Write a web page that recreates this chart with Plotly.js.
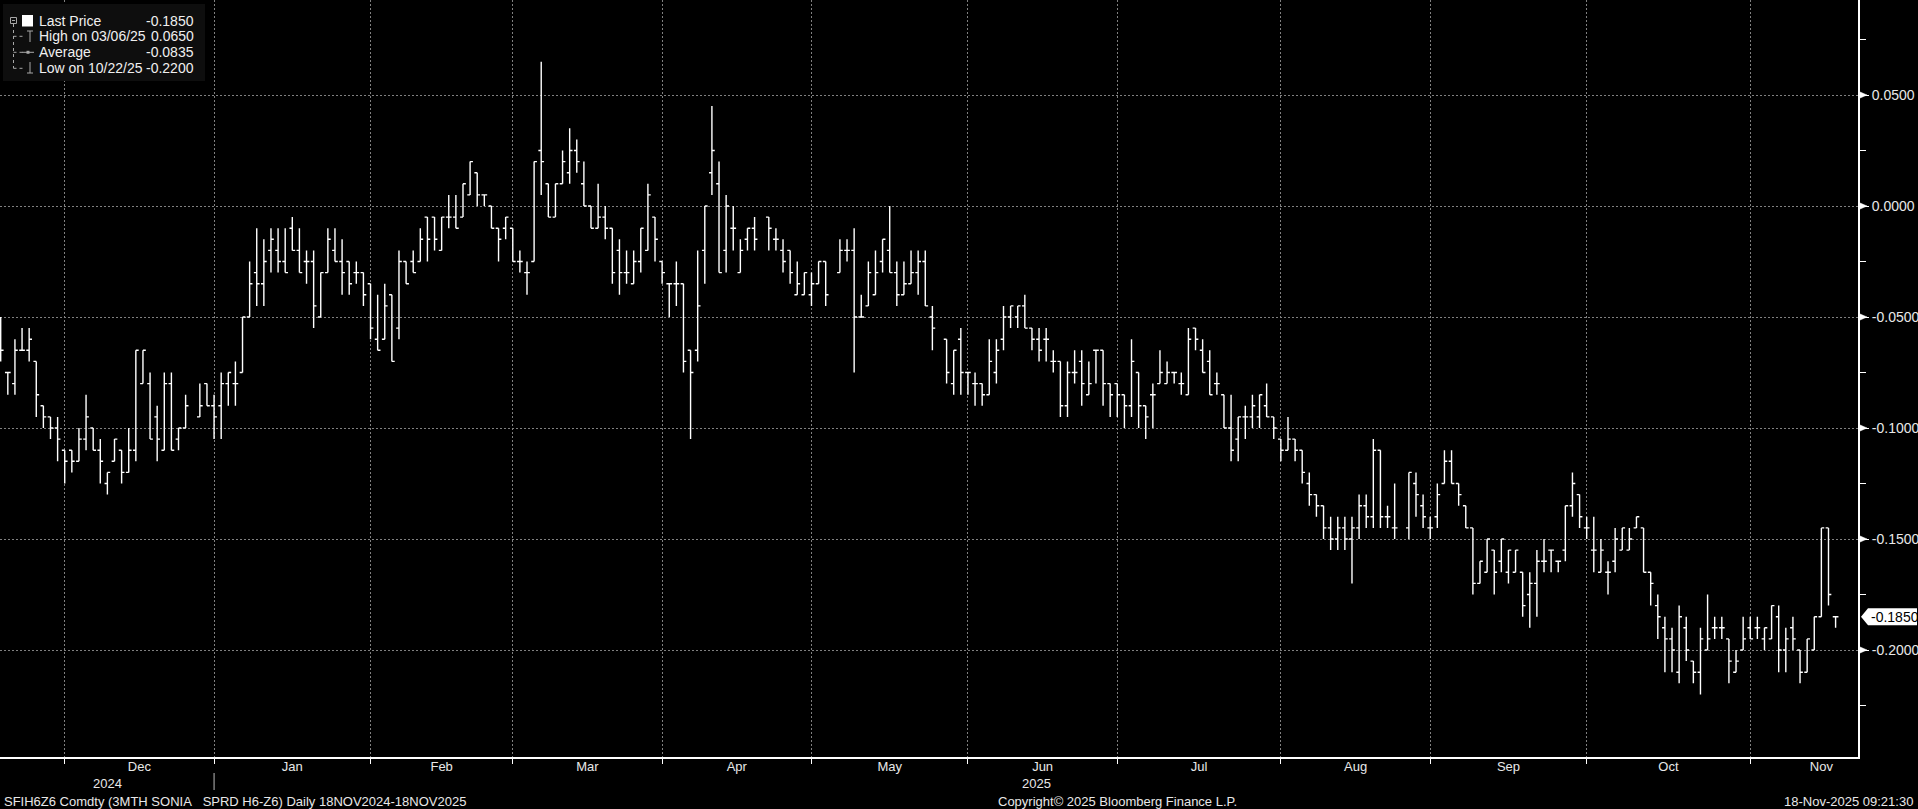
<!DOCTYPE html>
<html><head><meta charset="utf-8">
<script src="https://cdn.plot.ly/plotly-3.0.1.min.js"></script>
<style>html,body{margin:0;padding:0;background:#000;overflow:hidden}#chart{width:1918px;height:809px}</style>
</head><body><div id="chart"></div>
<script>
// ---- data ----
const startDate = '2024-11-18';
const endDate = '2025-11-18';
const holidays = ['2024-12-25', '2025-01-01', '2025-04-18'];
const monthNames = ['Jan','Feb','Mar','Apr','May','Jun','Jul','Aug','Sep','Oct','Nov','Dec'];

const opens = [
-0.06,-0.075,-0.08,-0.065,-0.065,-0.07,-0.09,-0.095,-0.10,-0.11,
-0.11,-0.115,-0.105,-0.10,-0.11,-0.125,-0.115,-0.11,-0.12,-0.11,
-0.08,-0.08,-0.095,-0.11,-0.08,-0.105,-0.10,null,-0.095,-0.08,
-0.09,-0.09,-0.08,-0.08,-0.075,-0.05,-0.03,-0.035,-0.02,-0.02,
-0.025,-0.01,-0.02,-0.025,-0.025,-0.05,-0.03,-0.02,-0.025,-0.025,
-0.03,-0.03,-0.035,-0.06,-0.06,-0.04,-0.055,-0.025,-0.025,-0.025,
-0.005,-0.005,-0.02,-0.005,-0.005,-0.005,0.005,0.015,0.005,0.0,
-0.01,-0.01,-0.01,-0.025,-0.03,-0.025,0.025,0.01,-0.005,0.01,
0.015,0.025,0.01,0.0,-0.01,-0.005,-0.01,-0.02,-0.03,-0.035,
-0.025,-0.02,-0.005,-0.025,-0.035,-0.035,-0.035,-0.065,-0.065,-0.02,
0.015,0.01,-0.02,-0.01,-0.03,-0.015,-0.01,null,-0.005,-0.015,
-0.02,-0.02,-0.04,-0.04,-0.04,-0.035,-0.025,null,-0.03,-0.02,
-0.02,-0.05,-0.045,-0.04,-0.025,-0.02,-0.03,-0.04,-0.035,-0.03,
-0.025,-0.05,null,-0.06,-0.08,-0.06,-0.075,-0.08,-0.08,-0.085,
-0.075,-0.06,-0.05,-0.05,-0.045,-0.055,-0.06,-0.06,-0.07,-0.07,
-0.09,-0.075,-0.07,-0.085,-0.065,-0.065,-0.08,-0.08,-0.085,-0.09,
-0.075,-0.09,-0.085,-0.08,-0.08,-0.075,-0.08,-0.085,-0.055,-0.065,
-0.07,-0.08,-0.085,-0.10,-0.105,-0.095,-0.095,-0.095,-0.09,-0.095,
-0.105,-0.11,-0.105,-0.11,-0.125,-0.13,-0.135,-0.145,-0.15,-0.145,
-0.15,-0.145,-0.135,-0.14,-0.11,-0.14,-0.145,null,-0.145,-0.125,
-0.135,-0.145,-0.14,-0.125,-0.115,-0.125,-0.135,-0.145,-0.17,-0.165,
-0.155,-0.16,-0.165,-0.165,-0.165,-0.175,-0.17,-0.16,-0.155,-0.16,
-0.155,-0.135,-0.13,-0.145,-0.155,-0.165,-0.165,-0.16,-0.155,-0.155,
-0.145,-0.145,-0.165,-0.18,-0.19,-0.195,-0.21,-0.19,-0.205,-0.21,
-0.20,-0.19,-0.19,-0.195,-0.21,-0.20,-0.19,-0.19,-0.195,-0.195,
-0.185,-0.20,-0.19,-0.20,-0.21,-0.20,-0.185,-0.145,-0.185
];
const highs = [
-0.05,-0.075,-0.06,-0.055,-0.055,-0.07,-0.09,-0.095,-0.095,-0.11,
-0.11,-0.10,-0.085,-0.10,-0.105,-0.12,-0.105,-0.11,-0.10,-0.065,
-0.065,-0.075,-0.09,-0.075,-0.075,-0.10,-0.085,null,-0.08,-0.08,
-0.085,-0.075,-0.075,-0.07,-0.05,-0.025,-0.01,-0.015,-0.01,-0.01,
-0.01,-0.005,-0.01,-0.02,-0.02,-0.03,-0.01,-0.01,-0.015,-0.025,
-0.025,-0.03,-0.035,-0.04,-0.035,-0.04,-0.02,-0.025,-0.02,-0.01,
-0.005,-0.005,-0.005,0.005,0.005,0.01,0.02,0.015,0.005,0.0,
-0.01,-0.005,-0.01,-0.02,-0.025,0.02,0.065,0.01,0.01,0.025,
0.035,0.03,0.02,0.0,0.01,0.0,-0.01,-0.015,-0.02,-0.02,
-0.01,0.01,-0.005,-0.025,-0.035,-0.025,-0.035,-0.065,-0.02,0.0,
0.045,0.02,0.005,0.0,-0.015,-0.01,-0.005,null,-0.005,-0.01,
-0.015,-0.02,-0.025,-0.03,-0.03,-0.025,-0.025,null,-0.015,-0.015,
-0.01,-0.04,-0.025,-0.02,-0.015,0.0,-0.025,-0.025,-0.02,-0.02,
-0.02,-0.045,null,-0.06,-0.065,-0.055,-0.075,-0.075,-0.08,-0.06,
-0.06,-0.045,-0.045,-0.045,-0.04,-0.055,-0.055,-0.055,-0.065,-0.07,
-0.07,-0.065,-0.065,-0.07,-0.065,-0.065,-0.08,-0.08,-0.085,-0.06,
-0.075,-0.09,-0.08,-0.065,-0.07,-0.075,-0.075,-0.055,-0.055,-0.06,
-0.065,-0.075,-0.085,-0.085,-0.095,-0.09,-0.085,-0.085,-0.08,-0.095,
-0.105,-0.095,-0.105,-0.11,-0.12,-0.13,-0.135,-0.14,-0.14,-0.14,
-0.14,-0.13,-0.13,-0.105,-0.11,-0.135,-0.125,null,-0.12,-0.12,
-0.13,-0.14,-0.125,-0.11,-0.11,-0.125,-0.135,-0.145,-0.16,-0.15,
-0.155,-0.15,-0.155,-0.155,-0.165,-0.165,-0.155,-0.15,-0.155,-0.16,
-0.135,-0.12,-0.13,-0.14,-0.14,-0.15,-0.16,-0.145,-0.145,-0.145,
-0.14,-0.145,-0.165,-0.175,-0.185,-0.19,-0.18,-0.185,-0.205,-0.19,
-0.175,-0.185,-0.185,-0.195,-0.20,-0.185,-0.185,-0.185,-0.19,-0.18,
-0.18,-0.19,-0.185,-0.20,-0.195,-0.185,-0.145,-0.145,-0.185
];
const lows = [
-0.07,-0.085,-0.085,-0.065,-0.07,-0.095,-0.10,-0.105,-0.115,-0.125,
-0.12,-0.115,-0.11,-0.11,-0.125,-0.13,-0.115,-0.125,-0.12,-0.115,
-0.08,-0.105,-0.115,-0.11,-0.11,-0.11,-0.10,null,-0.095,-0.09,
-0.105,-0.105,-0.09,-0.09,-0.075,-0.05,-0.045,-0.045,-0.03,-0.03,
-0.03,-0.02,-0.03,-0.035,-0.055,-0.05,-0.03,-0.025,-0.04,-0.04,
-0.035,-0.045,-0.06,-0.065,-0.06,-0.07,-0.06,-0.035,-0.03,-0.025,
-0.025,-0.02,-0.02,-0.01,-0.01,-0.005,0.005,0.0,0.0,-0.01,
-0.025,-0.015,-0.025,-0.03,-0.04,-0.025,0.005,-0.005,-0.005,0.01,
0.01,0.015,0.0,-0.01,-0.01,-0.015,-0.035,-0.04,-0.035,-0.035,
-0.03,-0.02,-0.025,-0.035,-0.05,-0.045,-0.075,-0.105,-0.07,-0.035,
0.005,-0.03,-0.03,-0.02,-0.03,-0.02,-0.02,null,-0.02,-0.02,
-0.03,-0.035,-0.04,-0.04,-0.045,-0.035,-0.045,null,-0.03,-0.025,
-0.075,-0.05,-0.045,-0.04,-0.03,-0.03,-0.045,-0.04,-0.035,-0.04,
-0.045,-0.065,null,-0.08,-0.085,-0.085,-0.085,-0.09,-0.09,-0.085,
-0.08,-0.065,-0.055,-0.055,-0.055,-0.065,-0.07,-0.07,-0.075,-0.095,
-0.095,-0.08,-0.09,-0.085,-0.08,-0.09,-0.095,-0.095,-0.10,-0.095,
-0.10,-0.105,-0.10,-0.08,-0.08,-0.08,-0.085,-0.085,-0.065,-0.075,
-0.085,-0.085,-0.10,-0.115,-0.115,-0.105,-0.10,-0.10,-0.095,-0.105,
-0.115,-0.11,-0.115,-0.125,-0.135,-0.14,-0.15,-0.155,-0.155,-0.155,
-0.17,-0.15,-0.145,-0.145,-0.145,-0.145,-0.15,null,-0.15,-0.14,
-0.145,-0.15,-0.145,-0.125,-0.125,-0.135,-0.145,-0.175,-0.17,-0.165,
-0.175,-0.165,-0.17,-0.165,-0.185,-0.19,-0.185,-0.165,-0.165,-0.165,
-0.16,-0.14,-0.145,-0.15,-0.165,-0.165,-0.175,-0.165,-0.155,-0.155,
-0.145,-0.165,-0.18,-0.195,-0.21,-0.21,-0.215,-0.205,-0.215,-0.22,
-0.20,-0.195,-0.195,-0.215,-0.21,-0.20,-0.195,-0.195,-0.20,-0.195,
-0.21,-0.21,-0.20,-0.215,-0.21,-0.20,-0.185,-0.18,-0.19
];
const closes = [
-0.065,-0.075,-0.065,-0.065,-0.06,-0.085,-0.095,-0.10,-0.105,-0.115,
-0.115,-0.105,-0.095,-0.11,-0.115,-0.12,-0.105,-0.12,-0.11,-0.065,
-0.065,-0.105,-0.105,-0.08,-0.11,-0.10,-0.09,null,-0.09,-0.09,
-0.095,-0.08,-0.075,-0.08,-0.05,-0.035,-0.035,-0.025,-0.015,-0.025,
-0.03,-0.02,-0.03,-0.025,-0.045,-0.03,-0.015,-0.025,-0.03,-0.035,
-0.03,-0.04,-0.055,-0.065,-0.045,-0.07,-0.025,-0.035,-0.03,-0.015,
-0.015,-0.015,-0.005,-0.005,-0.01,0.01,0.02,0.005,0.005,-0.01,
-0.015,-0.005,-0.025,-0.025,-0.03,0.02,0.02,-0.005,0.01,0.02,
0.025,0.02,0.0,-0.01,-0.005,-0.01,-0.03,-0.03,-0.03,-0.025,
-0.01,0.005,-0.015,-0.03,-0.035,-0.035,-0.07,-0.075,-0.045,0.0,
0.025,-0.03,0.0,-0.01,-0.02,-0.01,-0.015,null,-0.01,-0.015,
-0.025,-0.03,-0.035,-0.03,-0.035,-0.025,-0.04,null,-0.02,-0.02,
-0.05,-0.05,-0.03,-0.03,-0.015,-0.03,-0.04,-0.035,-0.03,-0.025,
-0.045,-0.055,null,-0.075,-0.065,-0.075,-0.075,-0.08,-0.085,-0.07,
-0.065,-0.05,-0.045,-0.045,-0.055,-0.06,-0.065,-0.06,-0.07,-0.09,
-0.075,-0.075,-0.08,-0.08,-0.065,-0.08,-0.085,-0.085,-0.09,-0.07,
-0.09,-0.095,-0.085,-0.075,-0.075,-0.075,-0.08,-0.06,-0.06,-0.075,
-0.085,-0.08,-0.10,-0.11,-0.095,-0.095,-0.09,-0.085,-0.095,-0.10,
-0.11,-0.105,-0.11,-0.12,-0.13,-0.135,-0.145,-0.15,-0.145,-0.15,
-0.145,-0.135,-0.14,-0.11,-0.14,-0.14,-0.145,null,-0.12,-0.13,
-0.14,-0.145,-0.13,-0.115,-0.125,-0.13,-0.145,-0.17,-0.16,-0.15,
-0.165,-0.15,-0.155,-0.155,-0.18,-0.17,-0.16,-0.16,-0.155,-0.16,
-0.135,-0.125,-0.14,-0.145,-0.155,-0.155,-0.165,-0.15,-0.145,-0.15,
-0.14,-0.165,-0.17,-0.185,-0.195,-0.20,-0.185,-0.20,-0.21,-0.195,
-0.195,-0.19,-0.19,-0.205,-0.205,-0.195,-0.195,-0.19,-0.19,-0.18,
-0.20,-0.195,-0.195,-0.21,-0.195,-0.185,-0.145,-0.175,-0.185
];

const yTickVals = [0.05, 0, -0.05, -0.10, -0.15, -0.20];
const yTickText = ['0.0500', '0.0000', '-0.0500', '-0.1000', '-0.1500', '-0.2000'];
const yMinorTickVals = [0.075, 0.025, -0.025, -0.075, -0.125, -0.175, -0.225];
const legendLabels = ['Last Price', 'High on 03/06/25', 'Average', 'Low on 10/22/25'];
const legendValues = ['-0.1850', '0.0650', '-0.0835', '-0.2200'];
const footLeft = 'SFIH6Z6 Comdty (3MTH SONIA\u00a0\u00a0\u00a0SPRD H6-Z6) Daily 18NOV2024-18NOV2025';
const footMid = 'Copyright\u00a9 2025 Bloomberg Finance L.P.';
const footRight = '18-Nov-2025 09:21:30';

// ---- trading calendar (weekdays without exchange-closed days) ----
function weekdayList(a, b) {
  const out = [];
  const d = new Date(a + 'T00:00:00Z'), e = new Date(b + 'T00:00:00Z');
  while (d <= e) {
    const dow = d.getUTCDay(), s = d.toISOString().slice(0, 10);
    if (dow !== 0 && dow !== 6 && holidays.indexOf(s) < 0) out.push(s);
    d.setUTCDate(d.getUTCDate() + 1);
  }
  return out;
}
const dates = weekdayList(startDate, endDate);
const N = dates.length;
const xIdx = dates.map((d, i) => i);

// ---- geometry ----
const W = 1918, H = 809, ML = 0, MR = 60, MT = 0, MB = 52;
const PW = W - ML - MR, PH = H - MT - MB;
const X_MIN = -0.1, X_MAX = 261.15;
const Y_MIN = -0.2482, Y_MAX = 0.0928;
const px = v => v / PW;
const py = v => 1 - v / PH;
const FONT = "'Liberation Sans', Arial, sans-serif";
const TXT = '#e8e8e8';

// month boundaries = last trading day of each month
const bounds = [];
for (let i = 0; i < N - 1; i++) if (dates[i].slice(0, 7) !== dates[i + 1].slice(0, 7)) bounds.push(i);
const lastM = dates[N - 1].slice(0, 7).split('-').map(Number);
const lastMonthDays = weekdayList(
  new Date(Date.UTC(lastM[0], lastM[1] - 1, 1)).toISOString().slice(0, 10),
  new Date(Date.UTC(lastM[0], lastM[1], 0)).toISOString().slice(0, 10)).length;
const allBounds = bounds.concat([bounds[bounds.length - 1] + lastMonthDays]);
const labelVals = [], labelText = [];
for (let k = 0; k < allBounds.length - 1; k++) {
  labelVals.push((allBounds[k] + allBounds[k + 1]) / 2);
  labelText.push(monthNames[+dates[allBounds[k] + 1].slice(5, 7) - 1]);
}
let yearBound = 0;
for (let i = 0; i < N - 1; i++) if (dates[i].slice(0, 4) !== dates[i + 1].slice(0, 4)) yearBound = i;

const shapes = [];
const annotations = [];

// legend box
shapes.push({type: 'rect', xref: 'paper', yref: 'paper', x0: px(3), x1: px(205), y0: py(4), y1: py(81),
  fillcolor: '#0e0e0e', line: {width: 0}, layer: 'above'});
const ICON = '#a8a8a8';
const rowsY = [20.5, 36.3, 52.3, 68.3];
// tree lines
shapes.push({type: 'line', xref: 'paper', yref: 'paper', x0: px(13.5), x1: px(13.5), y0: py(24), y1: py(rowsY[3]),
  line: {color: ICON, width: 1, dash: 'dot'}, layer: 'above'});
[1, 2, 3].forEach(r => shapes.push({type: 'line', xref: 'paper', yref: 'paper', x0: px(13.5), x1: px(24), y0: py(rowsY[r]), y1: py(rowsY[r]),
  line: {color: ICON, width: 1, dash: 'dot'}, layer: 'above'}));
// collapse box
shapes.push({type: 'rect', xref: 'paper', yref: 'paper', x0: px(10.5), x1: px(16.5), y0: py(17.5), y1: py(23.5),
  fillcolor: '#0e0e0e', line: {color: ICON, width: 1}, layer: 'above'});
shapes.push({type: 'line', xref: 'paper', yref: 'paper', x0: px(12), x1: px(15), y0: py(20.5), y1: py(20.5),
  line: {color: ICON, width: 1}, layer: 'above'});
// white square (last price)
shapes.push({type: 'rect', xref: 'paper', yref: 'paper', x0: px(22), x1: px(33), y0: py(15), y1: py(26.5),
  fillcolor: '#ffffff', line: {width: 0}, layer: 'above'});
// high icon (T)
shapes.push({type: 'line', xref: 'paper', yref: 'paper', x0: px(27), x1: px(33), y0: py(31), y1: py(31), line: {color: ICON, width: 1}, layer: 'above'});
shapes.push({type: 'line', xref: 'paper', yref: 'paper', x0: px(30), x1: px(30), y0: py(31), y1: py(42), line: {color: ICON, width: 1}, layer: 'above'});
// average icon
shapes.push({type: 'line', xref: 'paper', yref: 'paper', x0: px(22), x1: px(34), y0: py(52.3), y1: py(52.3), line: {color: ICON, width: 1}, layer: 'above'});
shapes.push({type: 'rect', xref: 'paper', yref: 'paper', x0: px(26.5), x1: px(29.5), y0: py(50.8), y1: py(53.8), fillcolor: ICON, line: {width: 0}, layer: 'above'});
// low icon
shapes.push({type: 'line', xref: 'paper', yref: 'paper', x0: px(30), x1: px(30), y0: py(62), y1: py(73), line: {color: ICON, width: 1}, layer: 'above'});
shapes.push({type: 'line', xref: 'paper', yref: 'paper', x0: px(27), x1: px(33), y0: py(73), y1: py(73), line: {color: ICON, width: 1}, layer: 'above'});

legendLabels.forEach((t, i) => {
  annotations.push({xref: 'paper', yref: 'paper', x: px(37), y: py(rowsY[i]), xanchor: 'left', yanchor: 'middle',
    text: t, showarrow: false, font: {family: FONT, size: 14, color: '#f0f0f0'}});
  annotations.push({xref: 'paper', yref: 'paper', x: px(196), y: py(rowsY[i]), xanchor: 'right', yanchor: 'middle',
    text: legendValues[i], showarrow: false, font: {family: FONT, size: 14, color: '#f0f0f0'}});
});

// y tick arrows
const yToPaper = v => (v - Y_MIN) / (Y_MAX - Y_MIN);
yTickVals.forEach(v => {
  const yp = yToPaper(v), d = 3.5 / PH;
  shapes.push({type: 'path', xref: 'paper', yref: 'paper',
    path: `M ${1 + px(1)},${yp + d} L ${1 + px(9)},${yp} L ${1 + px(1)},${yp - d} Z`,
    fillcolor: '#ffffff', line: {color: '#ffffff', width: 0.5}, layer: 'above'});
});

// last price tag
const lastClose = closes[N - 1];
const ly = yToPaper(lastClose), h = 8.5 / PH;
shapes.push({type: 'path', xref: 'paper', yref: 'paper',
  path: `M ${1 + px(3)},${ly} L ${1 + px(10)},${ly + h} L ${1 + px(59)},${ly + h} L ${1 + px(59)},${ly - h} L ${1 + px(10)},${ly - h} Z`,
  fillcolor: '#ffffff', line: {width: 0}, layer: 'above'});
annotations.push({xref: 'paper', yref: 'paper', x: 1 + px(11), y: ly, xanchor: 'left', yanchor: 'middle',
  text: lastClose.toFixed(4), showarrow: false, font: {family: FONT, size: 14, color: '#000000'}});

// year labels + separator
const yearY = py(783);
annotations.push({xref: 'x', yref: 'paper', x: (X_MIN + yearBound) / 2, y: yearY, xanchor: 'center', yanchor: 'middle',
  text: dates[0].slice(0, 4), showarrow: false, font: {family: FONT, size: 13, color: TXT}});
annotations.push({xref: 'x', yref: 'paper', x: (yearBound + X_MAX) / 2, y: yearY, xanchor: 'center', yanchor: 'middle',
  text: dates[N - 1].slice(0, 4), showarrow: false, font: {family: FONT, size: 13, color: TXT}});
shapes.push({type: 'line', xref: 'x', yref: 'paper', x0: yearBound, x1: yearBound, y0: py(773), y1: py(790),
  line: {color: '#bbbbbb', width: 1}});

// footer
const footY = py(801);
annotations.push({xref: 'paper', yref: 'paper', x: px(2), y: footY, xanchor: 'left', yanchor: 'middle',
  text: footLeft, showarrow: false, font: {family: FONT, size: 13, color: TXT}});
annotations.push({xref: 'paper', yref: 'paper', x: px(996), y: footY, xanchor: 'left', yanchor: 'middle',
  text: footMid, showarrow: false, font: {family: FONT, size: 13, color: TXT}});
annotations.push({xref: 'paper', yref: 'paper', x: px(1915), y: footY, xanchor: 'right', yanchor: 'middle',
  text: footRight, showarrow: false, font: {family: FONT, size: 13, color: TXT}});

const traces = [
  {type: 'ohlc', x: xIdx, open: opens, high: highs, low: lows, close: closes,
   increasing: {line: {color: '#ffffff', width: 1.4}}, decreasing: {line: {color: '#ffffff', width: 1.4}},
   tickwidth: 0.4, hoverinfo: 'skip', showlegend: false},
  {type: 'scatter', x: [null], y: [null], xaxis: 'x2', yaxis: 'y', mode: 'markers', hoverinfo: 'skip', showlegend: false}
];

const layout = {
  width: W, height: H,
  margin: {l: ML, r: MR, t: MT, b: MB, pad: 0},
  paper_bgcolor: '#000000', plot_bgcolor: '#000000',
  showlegend: false, hovermode: false,
  font: {family: FONT, color: TXT},
  xaxis: {range: [X_MIN, X_MAX], tickmode: 'array', tickvals: bounds, showticklabels: false,
    ticks: 'outside', ticklen: 5, tickcolor: '#ffffff', tickwidth: 1,
    showgrid: true, gridcolor: '#808080', griddash: '2px,2px', gridwidth: 1,
    showline: true, linecolor: '#ffffff', linewidth: 2, zeroline: false,
    rangeslider: {visible: false}, fixedrange: true},
  xaxis2: {overlaying: 'x', anchor: 'y', side: 'bottom', range: [X_MIN, X_MAX], tickmode: 'array',
    tickvals: labelVals, ticktext: labelText, ticks: '', showgrid: false, showline: false, zeroline: false,
    tickfont: {family: FONT, size: 13, color: TXT}, fixedrange: true},
  yaxis: {side: 'right', range: [Y_MIN, Y_MAX], tickmode: 'array', tickvals: yTickVals, ticktext: yTickText,
    ticks: 'outside', ticklen: 9, tickcolor: '#ffffff', tickwidth: 1,
    showgrid: true, gridcolor: '#808080', griddash: '2px,2px', gridwidth: 1,
    showline: true, linecolor: '#ffffff', linewidth: 2, zeroline: false,
    minor: {tickmode: 'array', tickvals: yMinorTickVals, ticks: 'outside', ticklen: 6, tickcolor: '#ffffff', tickwidth: 1, showgrid: false},
    tickfont: {family: FONT, size: 14, color: TXT}, fixedrange: true},
  shapes: shapes,
  annotations: annotations
};

Plotly.newPlot('chart', traces, layout, {displayModeBar: false, staticPlot: true});
</script>
</body></html>
